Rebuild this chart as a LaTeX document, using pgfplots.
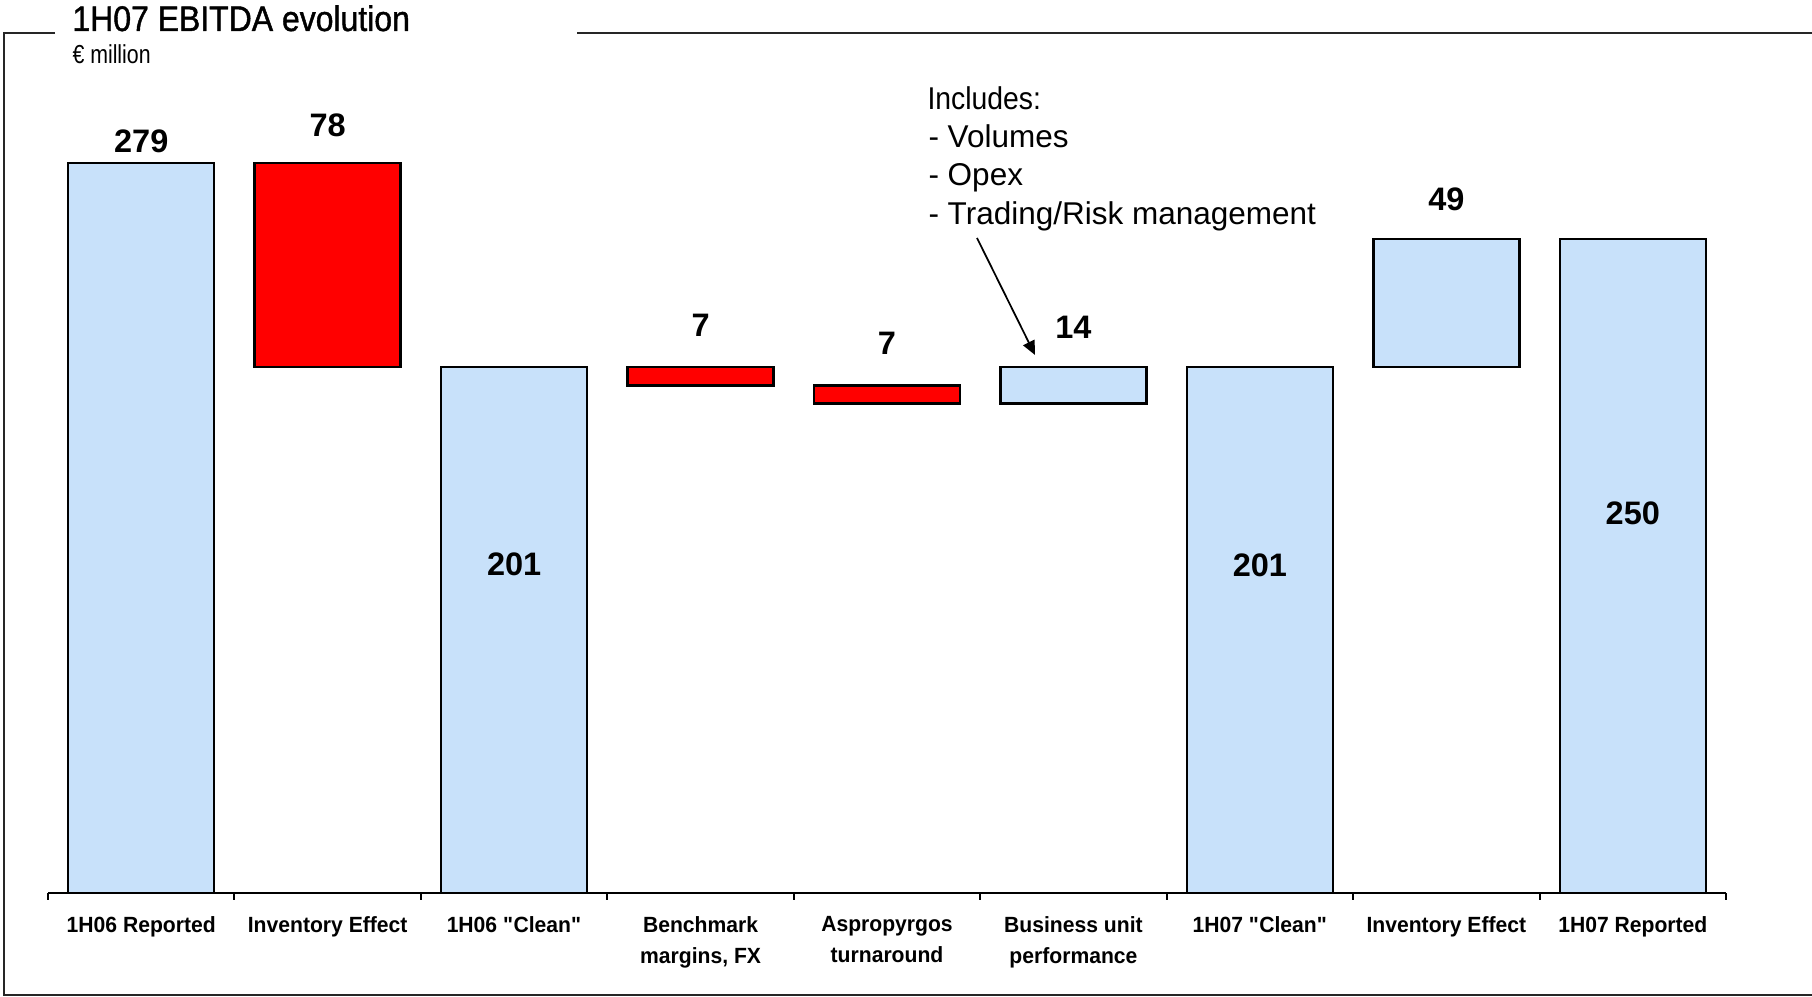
\documentclass[border=0pt]{standalone}
\usepackage{fontspec}
\setmainfont{Liberation Sans}
\newfontfamily\narrowfont[FakeStretch=0.9]{Liberation Sans}
\newfontfamily\titlefont[FakeStretch=0.9,FakeBold=1.2]{Liberation Sans}
\newfontfamily\unitfont[FakeStretch=0.82]{Liberation Sans}
\newfontfamily\tickfont[FakeStretch=0.96]{Liberation Sans Bold}
\usepackage{pgfplots}
\pgfplotsset{compat=1.18}
\usepackage{pgfplotstable}
\usetikzlibrary{arrows.meta}
\definecolor{barblue}{RGB}{200,225,250}
\definecolor{barred}{RGB}{255,0,0}

\pgfplotstableread{
x base blue red
0 0   279 0
1 201 0   78
2 0   201 0
3 194 0   7
4 187 0   7
5 187 14  0
6 0   201 0
7 201 49  0
8 0   250 0
}\wfdata

\begin{document}
\begin{tikzpicture}[x=0.4pt,y=0.4pt]
\path[use as bounding box] (0,0) rectangle (1812,997);
% frame
\draw[line width=0.8pt, black!85] (55,964) -- (4,964) -- (4,2) -- (1812,2);
\draw[line width=0.8pt, black!85] (577,964) -- (1812,964);
% titles
\node[anchor=base west, inner sep=0, font=\titlefont\fontsize{14.2}{17}\selectfont] at (72,966) {1H07 EBITDA evolution};
\node[anchor=base west, inner sep=0, font=\unitfont\fontsize{10.4}{12}\selectfont] at (72,933) {€ million};
\begin{axis}[
  at={(19.2pt,41.6pt)}, anchor=south west,
  scale only axis, width=671.2pt, height=313.98pt,
  xmin=-0.5, xmax=8.5, ymin=0, ymax=300,
  ybar stacked, bar width=58.4pt,
  axis x line*=bottom, axis y line=none,
  axis line style={line width=0.8pt, -},
  xtick={0,...,8}, major tick length=0pt,
  minor xtick={-0.5,0.5,...,8.5}, minor tick length=2.8pt, tick align=outside,
  minor tick style={line width=0.8pt, black},
  xticklabels={1H06 Reported, Inventory Effect, 1H06 \textquotedbl Clean\textquotedbl, {Benchmark\\margins, FX}, {Aspropyrgos\\turnaround}, {Business unit\\performance}, 1H07 \textquotedbl Clean\textquotedbl, Inventory Effect, 1H07 Reported},
  xticklabel style={align=center, font=\tickfont\fontsize{8.8}{12.4}\selectfont, yshift=-6pt},
  clip=false,
]
\addplot[draw=none, fill=none] table[x=x, y=base] {\wfdata};
\addplot[draw=black, line width=1pt, fill=barblue] table[x=x, y=blue] {\wfdata};
\addplot[draw=black, line width=1pt, fill=barred] table[x=x, y=red] {\wfdata};
\coordinate (v0) at (axis cs:0,287.4);
\coordinate (v1) at (axis cs:1,293.5);
\coordinate (v2) at (axis cs:2,125.7);
\coordinate (v3) at (axis cs:3,217);
\coordinate (v4) at (axis cs:4,210);
\coordinate (v5) at (axis cs:5,216.3);
\coordinate (v6) at (axis cs:6,125.4);
\coordinate (v7) at (axis cs:7,265);
\coordinate (v8) at (axis cs:8,145);
\end{axis}
\tikzset{vl/.style={font=\bfseries\fontsize{13}{15}\selectfont}}
\node[vl] at (v0) {279};
\node[vl] at (v1) {78};
\node[vl] at (v2) {201};
\node[vl] at (v3) {7};
\node[vl] at (v4) {7};
\node[vl] at (v5) {14};
\node[vl] at (v6) {201};
\node[vl] at (v7) {49};
\node[vl] at (v8) {250};
% annotation
\node[anchor=base west, inner sep=0, font=\narrowfont\fontsize{12.6}{15}\selectfont] at (927,887.5) {Includes:};
\node[anchor=base west, inner sep=0, font=\fontsize{12.6}{15}\selectfont] at (928,849.5) {- Volumes};
\node[anchor=base west, inner sep=0, font=\fontsize{12.6}{15}\selectfont] at (928,811.5) {- Opex};
\node[anchor=base west, inner sep=0, font=\fontsize{12.6}{15}\selectfont] at (928,772.5) {- Trading/Risk management};
\draw[line width=0.7pt, -{Triangle[length=5.6pt,width=5pt]}] (977,759) -- (1035,642);
\end{tikzpicture}
\end{document}
